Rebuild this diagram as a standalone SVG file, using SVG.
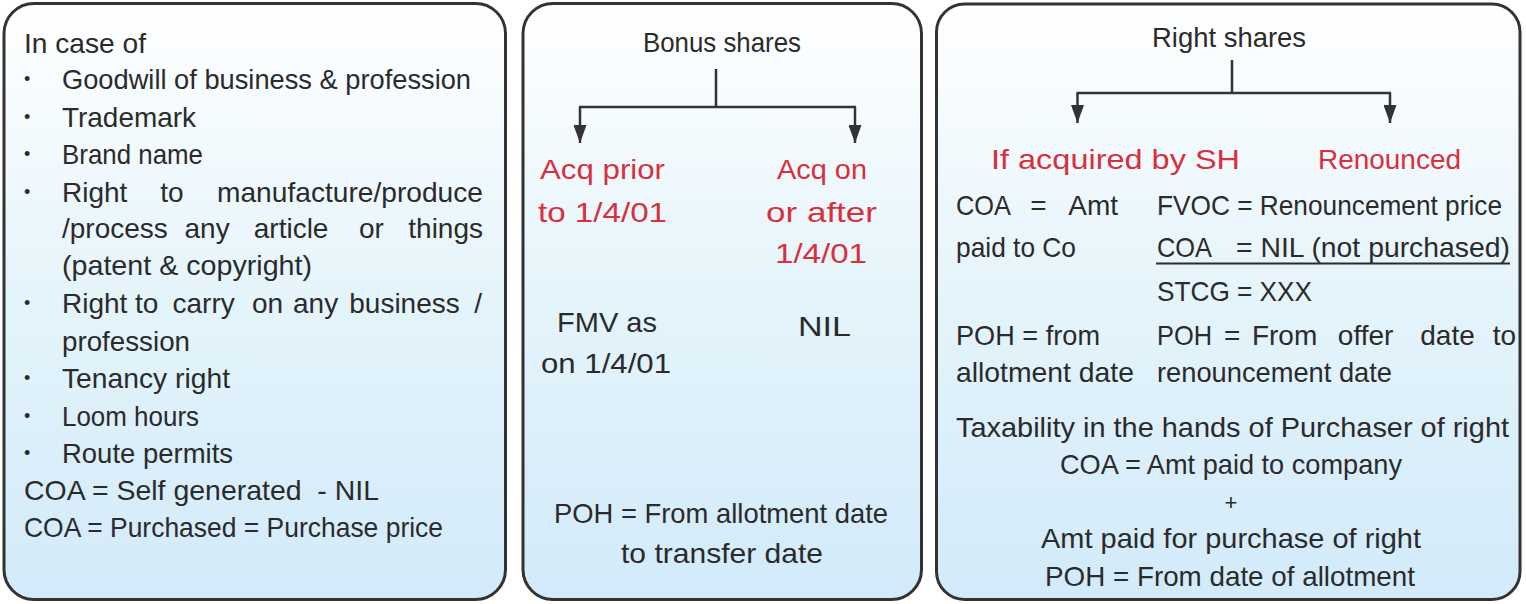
<svg xmlns="http://www.w3.org/2000/svg" width="1526" height="604" viewBox="0 0 1526 604">
<defs>
<linearGradient id="bg" x1="0" y1="0" x2="0" y2="1">
<stop offset="0" stop-color="#ffffff"/>
<stop offset="0.5" stop-color="#e4f4fb"/>
<stop offset="1" stop-color="#d2eafa"/>
</linearGradient>
<marker id="arr" viewBox="0 0 18 13" refX="18" refY="6.5" markerWidth="18" markerHeight="13" markerUnits="userSpaceOnUse" orient="auto">
<path d="M0,0 L18,6.5 L0,13 Z" fill="#333"/>
</marker>
<style>
.panel{fill:url(#bg);stroke:#333;stroke-width:3}
text{font-family:"Liberation Sans",Arial,sans-serif;font-size:28px;fill:#2b2b2b}
.red{fill:#d8303c}
.bul{font-size:18px}
.plus{font-size:22px}
.mid{text-anchor:middle}
.end{text-anchor:end}
.conn{fill:none;stroke:#333;stroke-width:2.5}
</style>
</defs>

<g id="panel-intangibles">
<rect class="panel" x="4" y="3.5" width="501.5" height="596" rx="30"/>
<text x="24" y="53" textLength="122" lengthAdjust="spacingAndGlyphs">In case of</text>
<text class="bul" x="24" y="85">•</text>
<text x="62" y="89" textLength="409" lengthAdjust="spacingAndGlyphs">Goodwill of business &amp; profession</text>
<text class="bul" x="24" y="123">•</text>
<text x="62" y="127" textLength="134" lengthAdjust="spacingAndGlyphs">Trademark</text>
<text class="bul" x="24" y="160">•</text>
<text x="62" y="164" textLength="141" lengthAdjust="spacingAndGlyphs">Brand name</text>
<text class="bul" x="24" y="198">•</text>
<text x="62" y="202">Right</text>
<text class="mid" x="172" y="202">to</text>
<text x="217" y="202" textLength="266" lengthAdjust="spacingAndGlyphs">manufacture/produce</text>
<text x="62" y="238">/process</text>
<text class="mid" y="238"><tspan x="211">any</tspan> <tspan x="295">article</tspan> <tspan x="371.5">or</tspan></text>
<text class="end" x="483" y="238">things</text>
<text x="62" y="275" textLength="250" lengthAdjust="spacingAndGlyphs">(patent &amp; copyright)</text>
<text class="bul" x="24" y="309">•</text>
<text x="62" y="313">Right</text>
<text class="mid" y="313"><tspan x="150.5">to</tspan> <tspan x="207.5">carry</tspan> <tspan x="271.5">on</tspan> <tspan x="319.5">any</tspan> <tspan x="404.5">business</tspan></text>
<text class="end" x="482" y="313">/</text>
<text x="62" y="351" textLength="128" lengthAdjust="spacingAndGlyphs">profession</text>
<text class="bul" x="24" y="384">•</text>
<text x="62" y="388" textLength="168" lengthAdjust="spacingAndGlyphs">Tenancy right</text>
<text class="bul" x="24" y="422">•</text>
<text x="62" y="426" textLength="137" lengthAdjust="spacingAndGlyphs">Loom hours</text>
<text class="bul" x="24" y="459">•</text>
<text x="62" y="463" textLength="171" lengthAdjust="spacingAndGlyphs">Route permits</text>
<text x="24" y="500" textLength="355" lengthAdjust="spacingAndGlyphs" xml:space="preserve">COA = Self generated  - NIL</text>
<text x="24" y="537" textLength="419" lengthAdjust="spacingAndGlyphs">COA = Purchased = Purchase price</text>
</g>

<g id="panel-bonus">
<rect class="panel" x="523" y="3.5" width="398.5" height="596" rx="30"/>
<text x="643" y="52" textLength="158" lengthAdjust="spacingAndGlyphs">Bonus shares</text>
<text class="red" x="540" y="179" textLength="125" lengthAdjust="spacingAndGlyphs">Acq prior</text>
<text class="red" x="538" y="222" textLength="129" lengthAdjust="spacingAndGlyphs">to 1/4/01</text>
<text class="red" x="777" y="179" textLength="90" lengthAdjust="spacingAndGlyphs">Acq on</text>
<text class="red" x="766" y="222" textLength="111" lengthAdjust="spacingAndGlyphs">or after</text>
<text class="red" x="775" y="263" textLength="92" lengthAdjust="spacingAndGlyphs">1/4/01</text>
<text x="557" y="332" textLength="100" lengthAdjust="spacingAndGlyphs">FMV as</text>
<text x="541" y="373" textLength="130" lengthAdjust="spacingAndGlyphs">on 1/4/01</text>
<text x="798" y="336" textLength="53" lengthAdjust="spacingAndGlyphs">NIL</text>
<text x="554" y="523" textLength="334" lengthAdjust="spacingAndGlyphs">POH = From allotment date</text>
<text x="621" y="563" textLength="202" lengthAdjust="spacingAndGlyphs">to transfer date</text>
</g>

<g id="panel-right">
<rect class="panel" x="936.5" y="4" width="583.5" height="595.5" rx="28"/>
<text x="1152" y="47" textLength="154" lengthAdjust="spacingAndGlyphs">Right shares</text>
<text class="red" x="991" y="169" textLength="249" lengthAdjust="spacingAndGlyphs">If acquired by SH</text>
<text class="red" x="1318" y="169" textLength="143" lengthAdjust="spacingAndGlyphs">Renounced</text>
<text x="956" y="215" textLength="55" lengthAdjust="spacingAndGlyphs">COA</text>
<text class="mid" x="1038.5" y="215">=</text>
<text class="end" x="1118" y="215">Amt</text>
<text x="956" y="257" textLength="120" lengthAdjust="spacingAndGlyphs">paid to Co</text>
<text x="1157" y="215" textLength="345" lengthAdjust="spacingAndGlyphs">FVOC = Renouncement price</text>
<text x="1157" y="257" textLength="55" lengthAdjust="spacingAndGlyphs">COA</text>
<text x="1236" y="257" textLength="274" lengthAdjust="spacingAndGlyphs">= NIL (not purchased)</text>
<line x1="1156" y1="263.5" x2="1510" y2="263.5" stroke="#2b2b2b" stroke-width="2"/>
<text x="1157" y="301" textLength="155" lengthAdjust="spacingAndGlyphs">STCG = XXX</text>
<text x="956" y="345" textLength="144" lengthAdjust="spacingAndGlyphs">POH = from</text>
<text x="1157" y="345" textLength="55" lengthAdjust="spacingAndGlyphs">POH</text>
<text class="mid" y="345"><tspan x="1236">=</tspan> <tspan x="1288.5">From</tspan> <tspan x="1369.5">offer</tspan> <tspan x="1447.5">date</tspan></text>
<text class="end" x="1516" y="345">to</text>
<text x="956" y="382" textLength="178" lengthAdjust="spacingAndGlyphs">allotment date</text>
<text x="1157" y="382" textLength="235" lengthAdjust="spacingAndGlyphs">renouncement date</text>
<text x="956" y="437" textLength="553" lengthAdjust="spacingAndGlyphs">Taxability in the hands of Purchaser of right</text>
<text x="1060" y="474" textLength="342" lengthAdjust="spacingAndGlyphs">COA = Amt paid to company</text>
<text class="plus" x="1231" y="510" text-anchor="middle">+</text>
<text x="1041" y="548" textLength="380" lengthAdjust="spacingAndGlyphs">Amt paid for purchase of right</text>
<text x="1045" y="586" textLength="370" lengthAdjust="spacingAndGlyphs">POH = From date of allotment</text>
</g>

<g id="connectors">
<path class="conn" d="M716,69 V107 M579,107 H856"/>
<path class="conn" d="M580,107 V143" marker-end="url(#arr)"/>
<path class="conn" d="M855,107 V143" marker-end="url(#arr)"/>
<path class="conn" d="M1232,60 V93 M1076.5,93 H1391"/>
<path class="conn" d="M1077.5,93 V123" marker-end="url(#arr)"/>
<path class="conn" d="M1390,93 V123" marker-end="url(#arr)"/>
</g>
</svg>
